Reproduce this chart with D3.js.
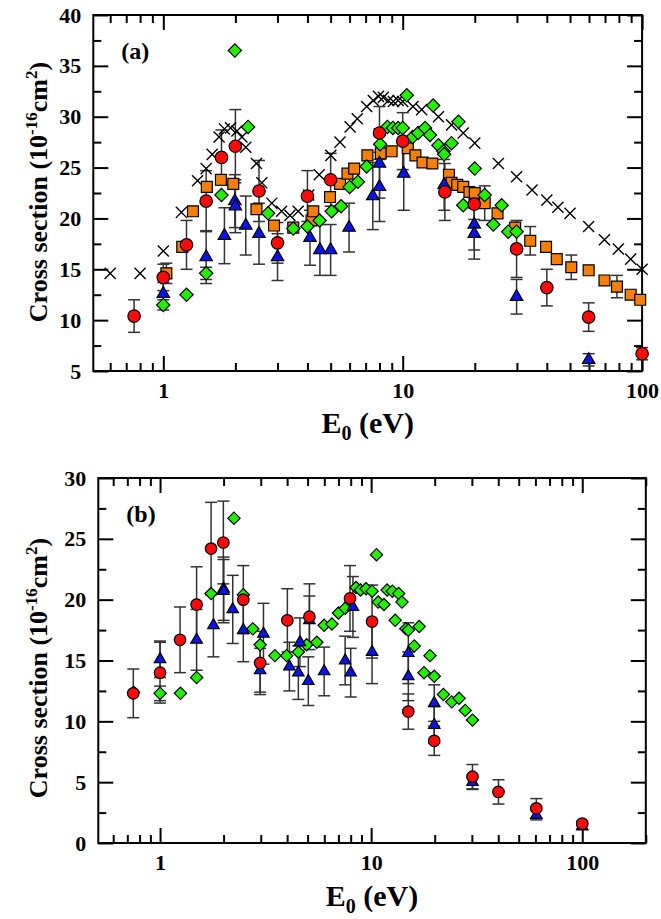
<!DOCTYPE html>
<html>
<head>
<meta charset="utf-8">
<script src="https://cdn.jsdelivr.net/npm/d3@7/dist/d3.min.js"></script>
<style>
body { margin: 0; background: #fff; }
svg { display: block; }
text { font-family: "Liberation Serif", "Times New Roman", serif; font-weight: bold; }
</style>
</head>
<body>
<svg width="661" height="919"></svg>
<script>
// values: [E0 (eV), cross section, error]
var aCross = [[0.6,14.6],[0.8,14.6],[1.0,16.8],[1.19,20.6],[1.39,23.7],[1.51,24.9],[1.6,26.3],[1.71,28.0],
    [1.8,28.8],[1.91,28.9],[2.03,28.6],[2.13,28.0],[2.21,27.0],[2.45,25.4],[2.58,23.5],[2.84,21.5],[3.12,20.7],
    [3.38,20.3],[3.66,20.7],[4.05,22.3],[4.48,24.3],[5.01,26.2],[5.47,27.5],[6.03,29.0],[6.46,29.8],[7.07,31.0],
    [7.54,31.6],[7.92,32.0],[8.3,31.9],[8.72,31.6],[9.14,31.5],[9.57,31.6],[10.0,31.5],[11.04,31.0],[12.0,30.7],
    [14.1,30.0],[16.0,29.2],[17.9,28.4],[20.0,27.4],[25.1,25.4],[29.9,24.1],[34.7,22.8],[40,21.8],[44.5,21.1],
    [50,20.5],[59.8,19.2],[69.6,17.9],[79.6,17.0],[89.6,16.0],[100,15.0]];

var aOrange = [[1.03,14.6,1.0],[1.2,17.2,0],[1.33,20.7,0],[1.52,23.1,0],[1.74,23.8,0],[1.96,23.4,0],[2.45,20.9,0],
    [2.9,19.3,0],[3.49,19.1,0],[4.16,19.8,0],[4.23,20.7,0],[4.97,22.1,0],[5.47,23.4,0],[5.88,24.4,0],[6.27,24.9,0],
    [7.12,26.2,0],[8.1,26.4,0],[8.99,26.6,0],[10.5,26.9,0],[11.3,26.2,0],[12.1,25.5,0],[13.3,25.4,0],[15.6,24.3,0],
    [16.0,23.5,0],[16.9,23.3,0],[17.9,23.1,0],[19.0,22.6,0],[20.0,22.5,0],[22.0,21.5,1.7],[24.9,20.5,0],
    [29.5,19.1,0],[34.1,17.8,1.4],[39.7,17.2,0],[44,16.0,0],[50.6,15.2,1.2],[59.8,14.9,0],[69.6,13.9,0],
    [78.5,13.3,1.1],[89.6,12.5,0],[98.2,12.0,0]];

var aGreen = [[1.0,11.5,0.5],[1.25,12.5,0],[1.51,14.6,0.6],[1.75,22.3,0],[1.99,36.5,0],[2.26,29.0,0],[2.74,20.5,0],
    [3.49,19.0,0],[4.0,19.2,0],[4.5,19.8,0],[5.05,20.7,0],[5.53,21.2,0],[6.0,23.1,0],[6.5,23.6,0],[7.07,25.1,0],
    [8.05,27.3,0],[8.63,29.0,0],[9.1,28.9,0],[9.57,28.9,0],[10.0,28.9,0],[10.4,32.1,0],[11.0,28.0,0],[11.6,28.4,0],
    [12.4,28.9,0],[13.0,28.2,0],[13.4,31.1,0],[14.1,27.2,0],[14.8,26.6,0],[14.9,26.3,0],[16.0,27.4,0],
    [17.1,29.5,0],[17.9,21.3,0],[20.0,24.9,0],[22.0,22.3,0],[23.9,19.4,0],[25.9,21.3,0],[27.6,18.7,0],[29.9,18.7,0]];

var aRed = [[0.755,10.4,1.6],[1.0,14.2,1.3],[1.25,17.4,2.4],[1.51,21.7,3.0],[1.75,26.0,2.7],[2.0,27.1,3.6],
    [2.51,22.7,3.0],[3.0,17.6,2.0],[4.0,22.2,2.5],[5.0,23.8,2.6],[8.0,28.4,2.6],[10.0,27.6,2.8],[15.0,22.6,2.8],
    [19.9,21.4,1.5],[29.9,17.0,2.8],[40,13.2,1.8],[59.8,10.3,1.4],[100,6.7,0.6]];

var aBlue = [[1.0,12.6,1.1],[1.51,16.2,2.6],[1.8,18.3,2.75],[1.99,21.7,2.6],[2.0,21.2,2.6],[2.21,19.3,2.9],
    [2.51,18.5,3.0],[3.0,16.2,2.3],[4.1,18.1,2.7],[4.51,16.9,2.5],[5.0,16.9,2.5],[5.97,19.1,2.4],[7.5,22.2,3.3],
    [8.0,25.4,3.4],[8.0,23.1,3.4],[10.1,24.4,3.6],[14.9,23.3,2.5],[19.9,19.4,2.5],[19.9,18.5,2.5],
    [29.9,12.3,1.7],[59.8,6.1,0.6]];

var bGreen = [[0.75,12.4,0],[1.0,12.3,0.6],[1.25,12.3,0],[1.49,13.6,0],[1.745,20.5,0],[2.24,26.7,0],[2.48,20.4,0],
    [2.75,17.6,0],[2.98,16.3,0],[3.5,15.4,0],[3.98,15.4,0],[4.52,15.7,0],[4.95,16.3,0],[5.53,16.5,0],[5.99,17.9,0],
    [6.52,18.0,0],[7.0,18.9,0],[7.53,19.3,0],[8.48,21.0,0],[8.9,20.8,0],[9.46,20.9,0],[10.1,20.7,0],[10.6,23.7,0],
    [10.8,19.8,0],[11.5,19.6,0],[11.9,20.8,0],[12.6,20.7,0],[13.0,18.3,0],[13.5,20.5,0],[14.0,19.8,0],
    [14.6,17.6,0],[15.0,17.5,0],[16.0,16.2,0],[16.9,17.8,0],[17.8,14.0,0],[19.0,15.4,0],[19.9,13.7,0],
    [22.0,12.2,0],[24.1,11.6,0],[26.1,11.9,0],[27.9,10.9,0],[30.2,10.1,0]];

var bRed = [[0.747,12.3,2.0],[1.0,14.0,2.5],[1.244,16.7,2.7],[1.49,19.6,3.1],[1.745,24.2,3.8],[1.995,24.7,3.4],
    [2.48,20.0,2.8],[2.98,14.8,2.6],[4.01,18.3,2.6],[5.1,18.6,2.7],[7.94,20.1,2.7],[10.1,18.2,3.0],
    [15.0,10.8,1.45],[19.9,8.4,1.2],[30.2,5.45,1.0],[40.1,4.2,1.0],[60.6,2.85,0.8],[100,1.6,0.2]];

var bBlue = [[1.0,15.1,1.5],[1.49,16.7,2.5],[1.79,17.9,2.6],[2.0,20.9,2.6],[2.0,20.7,2.6],[2.21,19.2,2.8],
    [2.48,17.5,2.6],[2.98,14.2,1.8],[3.09,17.2,2.5],[4.1,14.5,2.0],[4.52,14.0,2.2],[4.6,16.5,2.0],[5.04,13.3,2.0],
    [5.1,18.3,2.0],[5.99,14.1,2.0],[7.53,15.0,2.0],[8.0,14.0,2.0],[8.2,19.4,2.5],[10.1,15.7,2.6],[15.0,15.6,2.5],
    [15.0,13.7,2.0],[19.9,11.5,1.5],[19.9,9.7,1.5],[30.2,5.0,0.6],[60.6,2.3,0.4],[100,1.35,0.2]];

var xMajor = [1, 10, 100];
var xMinorA = [0.6,0.7,0.8,0.9,2,3,4,5,6,7,8,9,20,30,40,50,60,70,80,90];
var xMinorB = xMinorA.concat([200]);
var yMajorA = [5,10,15,20,25,30,35,40], yMinorA = [7.5,12.5,17.5,22.5,27.5,32.5,37.5];
var yMajorB = [0,5,10,15,20,25,30], yMinorB = [2.5,7.5,12.5,17.5,22.5,27.5];

var svg = d3.select("svg");

drawPanel({
    label: "(a)", left: 93.3, right: 642.1, top: 15, bottom: 371,
    xDomain: [0.51, 100], yDomain: [5, 40],
    xMinor: xMinorA, yMajor: yMajorA, yMinor: yMinorA,
    titleY: 433, ytitleY: 192, sz: 1.08,
    series: [
        {data: aCross, type: "x"},
        {data: aOrange, type: "square", fill: "#f57f0b"},
        {data: aGreen, type: "diamond", fill: "#22f000"},
        {data: aBlue, type: "triangle", fill: "#0a14e6"},
        {data: aRed, type: "circle", fill: "#ff0a0a"}
    ]
});

drawPanel({
    label: "(b)", left: 98.3, right: 645.8, top: 478, bottom: 843,
    xDomain: [0.51, 200], yDomain: [0, 30],
    xMinor: xMinorB, yMajor: yMajorB, yMinor: yMinorB,
    titleY: 906, ytitleY: 668, sz: 0.92,
    series: [
        {data: bGreen, type: "diamond", fill: "#22f000"},
        {data: bBlue, type: "triangle", fill: "#0a14e6"},
        {data: bRed, type: "circle", fill: "#ff0a0a"}
    ]
});

function drawPanel(p) {
    var x = d3.scaleLog().domain(p.xDomain).range([p.left, p.right]);
    var y = d3.scaleLinear().domain(p.yDomain).range([p.bottom, p.top]);
    var g = svg.append("g");

    function ticks(axis, tr, labels) {
        var a = g.append("g").attr("transform", tr).call(axis);
        a.select(".domain").remove();
        a.selectAll(".tick line").attr("stroke", "#000").attr("stroke-width", 2);
        a.attr("font-family", null).attr("font-size", 22);
        if (!labels) a.selectAll("text").remove();
        return a;
    }

    // ticks point inwards on all four sides
    ticks(d3.axisBottom(x).tickValues(xMajor).tickFormat(d3.format("d")).tickSizeInner(-15).tickSizeOuter(0).tickPadding(11),
        "translate(0," + p.bottom + ")", true);
    ticks(d3.axisBottom(x).tickValues(p.xMinor).tickSizeInner(-8).tickSizeOuter(0), "translate(0," + p.bottom + ")");
    ticks(d3.axisTop(x).tickValues(xMajor).tickSizeInner(-15).tickSizeOuter(0), "translate(0," + p.top + ")");
    ticks(d3.axisTop(x).tickValues(p.xMinor).tickSizeInner(-8).tickSizeOuter(0), "translate(0," + p.top + ")");
    ticks(d3.axisLeft(y).tickValues(p.yMajor).tickSizeInner(-15).tickSizeOuter(0).tickPadding(12),
        "translate(" + p.left + ",0)", true);
    ticks(d3.axisLeft(y).tickValues(p.yMinor).tickSizeInner(-8).tickSizeOuter(0), "translate(" + p.left + ",0)");
    ticks(d3.axisRight(y).tickValues(p.yMajor).tickSizeInner(-15).tickSizeOuter(0), "translate(" + p.right + ",0)");
    ticks(d3.axisRight(y).tickValues(p.yMinor).tickSizeInner(-8).tickSizeOuter(0), "translate(" + p.right + ",0)");

    g.append("rect")
        .attr("x", p.left).attr("y", p.top)
        .attr("width", p.right - p.left).attr("height", p.bottom - p.top)
        .attr("fill", "none").attr("stroke", "#000").attr("stroke-width", 2);

    // error bars first, markers on top
    var eb = g.append("g").attr("stroke", "#333").attr("stroke-width", 1.5);
    p.series.forEach(function (s) {
        s.data.filter(function (d) { return d[2] > 0; }).forEach(function (d) {
            var cx = x(d[0]), y1 = y(d[1] + d[2]), y0 = y(d[1] - d[2]);
            eb.append("line").attr("x1", cx).attr("x2", cx).attr("y1", y1).attr("y2", y0);
            eb.append("line").attr("x1", cx - 6).attr("x2", cx + 6).attr("y1", y1).attr("y2", y1);
            eb.append("line").attr("x1", cx - 6).attr("x2", cx + 6).attr("y1", y0).attr("y2", y0);
        });
    });

    var shapes = {
        circle: {t: d3.symbolCircle, s: 113, r: 0},
        square: {t: d3.symbolSquare, s: 110, r: 0},
        diamond: {t: d3.symbolSquare, s: 82, r: 45},
        triangle: {t: d3.symbolTriangle, s: 62, r: 0},
        x: {t: d3.symbolX, s: 82, r: 0}
    };
    p.series.forEach(function (s) {
        var sh = shapes[s.type];
        var sym = d3.symbol().type(sh.t).size(s.type == "x" ? sh.s : sh.s * p.sz);
        g.append("g").selectAll("path")
            .data(s.data)
            .enter().append("path")
            .attr("d", sym)
            .attr("transform", function (d) {
                return "translate(" + x(d[0]) + "," + y(d[1]) + ") rotate(" + sh.r + ")";
            })
            .attr("fill", s.type == "x" ? "none" : s.fill)
            .attr("stroke", "#000")
            .attr("stroke-width", s.type == "x" ? 1.4 : 1.2);
    });

    g.append("text").attr("x", p.left + 28).attr("y", p.top + 44)
        .attr("font-size", 24).text(p.label);

    var xt = g.append("text").attr("x", (p.left + p.right) / 2).attr("y", p.titleY)
        .attr("text-anchor", "middle").attr("font-size", 30);
    xt.append("tspan").text("E");
    xt.append("tspan").attr("font-size", 20).attr("dy", 7).text("0");
    xt.append("tspan").attr("dy", -7).text(" (eV)");

    var yt = g.append("text").attr("transform", "translate(47," + p.ytitleY + ") rotate(-90)")
        .attr("text-anchor", "middle").attr("font-size", 26);
    yt.append("tspan").text("Cross section (10");
    yt.append("tspan").attr("font-size", 17).attr("dy", -10).text("-16");
    yt.append("tspan").attr("dy", 10).text("cm");
    yt.append("tspan").attr("font-size", 17).attr("dy", -10).text("2");
    yt.append("tspan").attr("dy", 10).text(")");
}
</script>
</body>
</html>
